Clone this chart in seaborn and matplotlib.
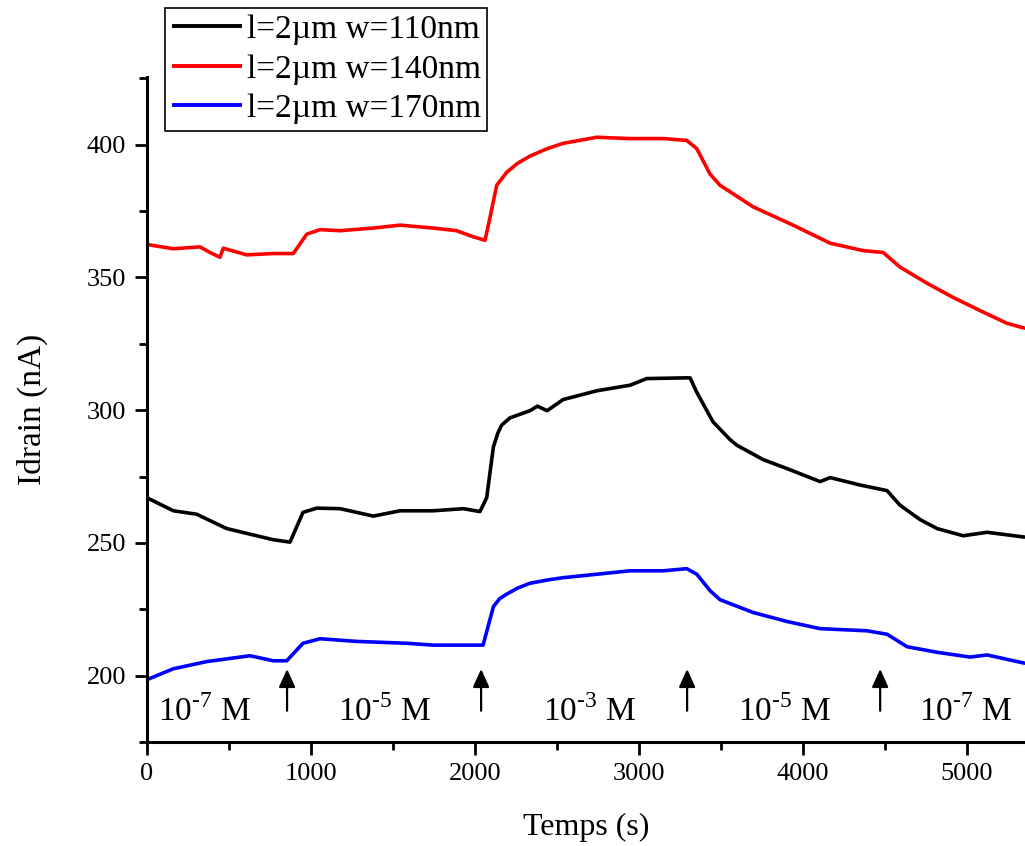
import pandas as pd
import matplotlib
matplotlib.use("Agg")
import matplotlib.pyplot as plt
import seaborn as sns

# time (s) / current (nA)
t_black = [0, 161, 303, 486, 628, 770, 872, 951, 1035, 1177, 1380, 1543, 1744, 1929, 2030, 2071,
           2112, 2140, 2163, 2213, 2335, 2380, 2440, 2537, 2742, 2945, 3047, 3311, 3352, 3451, 3555,
           3596, 3756, 3902, 4104, 4165, 4348, 4512, 4591, 4713, 4817, 4976, 5122, 5350]
i_black = [267.0, 262.1, 260.8, 255.4, 253.3, 251.2, 250.3, 261.5, 263.1, 262.9, 260.1, 262.1, 262.1,
           262.9, 261.8, 267.0, 286.2, 291.5, 294.4, 297.1, 299.8, 301.5, 299.8, 304.0, 307.3, 309.4,
           311.9, 312.2, 306.7, 295.6, 288.9, 286.8, 281.4, 278.0, 273.1, 274.6, 271.8, 269.7, 264.2,
           258.8, 255.4, 252.7, 254.0, 252.2]

t_red = [0, 161, 323, 384, 445, 465, 608, 770, 892, 974, 1055, 1177, 1380, 1543, 1744, 1888, 1989,
         2061, 2091, 2132, 2193, 2260, 2335, 2440, 2537, 2742, 2945, 3148, 3291, 3352, 3433, 3494,
         3695, 3939, 4165, 4366, 4488, 4591, 4756, 4917, 5079, 5244, 5350]
i_red = [362.4, 360.8, 361.5, 359.4, 357.6, 361.0, 358.5, 359.0, 359.0, 366.3, 368.0, 367.6, 368.6,
         369.7, 368.6, 367.6, 365.3, 364.0, 372.5, 384.7, 389.6, 393.0, 395.7, 398.5, 400.5, 402.8,
         402.3, 402.3, 401.6, 398.5, 388.9, 384.7, 376.6, 369.7, 362.9, 360.1, 359.4, 353.9, 347.8,
         342.4, 337.5, 332.7, 330.9]

t_blue = [0, 161, 364, 628, 770, 852, 951, 1055, 1279, 1583, 1744, 1929, 2049, 2112, 2150, 2193,
          2260, 2335, 2457, 2537, 2742, 2945, 3148, 3291, 3352, 3433, 3494, 3695, 3902, 4104, 4390,
          4512, 4634, 4817, 5018, 5122, 5350]
i_blue = [198.5, 202.6, 205.3, 207.5, 205.6, 205.6, 212.2, 213.9, 212.9, 212.2, 211.5, 211.5, 211.5,
          226.0, 229.0, 230.7, 233.0, 234.8, 236.2, 236.9, 238.2, 239.5, 239.5, 240.3, 238.2, 232.0,
          228.6, 223.8, 220.4, 217.7, 216.9, 215.6, 210.9, 208.8, 207.0, 207.8, 204.7]

labels = ["l=2\u00b5m w=110nm", "l=2\u00b5m w=140nm", "l=2\u00b5m w=170nm"]
colors = ["black", "#ff0000", "#0000ff"]

# injection times and concentration labels
arrow_t = [854, 2037, 3293, 4470]
conc_t = [354, 1451, 2700, 3890, 4988]
conc_exp = ["7", "5", "3", "5", "7"]

sns.set_style("ticks")
plt.rcParams["font.family"] = ["Liberation Serif", "DejaVu Serif"]
plt.rcParams["mathtext.fontset"] = "custom"
plt.rcParams["mathtext.rm"] = "Liberation Serif"
for k in ["text.color", "axes.labelcolor", "xtick.color", "ytick.color", "axes.edgecolor"]:
    plt.rcParams[k] = "black"

fig = plt.figure(figsize=(10.25, 8.46), dpi=100)
ax = fig.add_axes([0.1434, 0.1229, 0.8566, 0.7861])

for t, i, lab, c in zip([t_black, t_red, t_blue], [i_black, i_red, i_blue], labels, colors):
    df = pd.DataFrame({"t": t, "I": i})
    sns.lineplot(data=df, x="t", y="I", color=c, lw=2.6, label=lab, ax=ax, sort=False)

for t in arrow_t:
    ax.annotate("", xy=(t, 202.5), xytext=(t, 186.8),
                arrowprops=dict(arrowstyle="-|>,head_length=0.55,head_width=0.25", color="black",
                                lw=1.6, shrinkA=0, shrinkB=0, mutation_scale=20))
for t, e in zip(conc_t, conc_exp):
    ax.text(t, 186.5, "10$^{\\mathregular{\u2010" + e + "}}$ M", ha="center", va="center", fontsize=24)

ax.set_xlim(0, 5353)
ax.set_ylim(175, 425.5)
ax.set_xticks([0, 1000, 2000, 3000, 4000, 5000])
ax.set_xticks([500, 1500, 2500, 3500, 4500], minor=True)
ax.set_yticks([200, 250, 300, 350, 400])
ax.set_yticks([175, 225, 275, 325, 375, 425], minor=True)
ax.tick_params(which="major", length=9, width=2, labelsize=19, pad=6)
ax.tick_params(which="minor", length=5.5, width=2)
ax.set_xlabel("Temps (s)", fontsize=23, labelpad=20)
ax.set_ylabel("Idrain (nA)", fontsize=24, labelpad=28)
sns.despine(ax=ax)
for sp in ["left", "bottom"]:
    ax.spines[sp].set_linewidth(2.2)

leg = ax.legend(loc="upper left", bbox_to_anchor=(165 / 1025, 1 - 8 / 846), bbox_transform=fig.transFigure,
                borderaxespad=0, fontsize=24, fancybox=False, framealpha=1, edgecolor="black",
                handlelength=2.1, handletextpad=0.15, labelspacing=0.27, borderpad=0.2)
leg.get_frame().set_linewidth(1.2)
for ln in leg.get_lines():
    ln.set_linewidth(2.8)
    ln.set_solid_capstyle("butt")

fig.savefig("out.png", dpi=100)
